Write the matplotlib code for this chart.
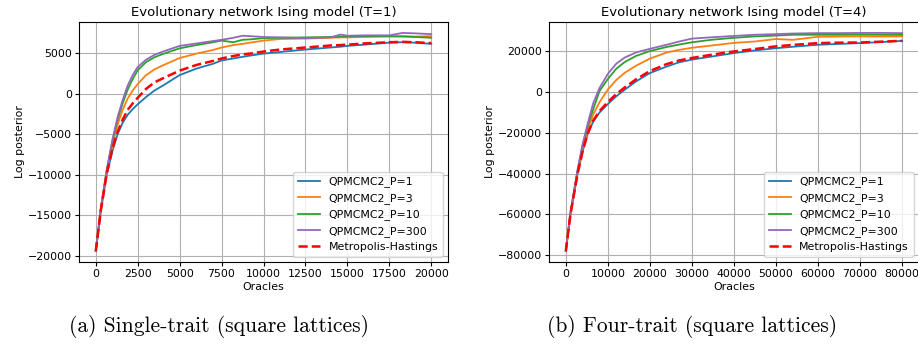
import numpy as np
import matplotlib
matplotlib.use("Agg")
import matplotlib.pyplot as plt

# values
labels = ['QPMCMC2_P=1', 'QPMCMC2_P=3', 'QPMCMC2_P=10', 'QPMCMC2_P=300', 'Metropolis-Hastings']

# T=1 (single-trait), oracles 0..20000
x1 = [0, 300, 650, 1000, 1300, 1600, 1900, 2200, 2500, 3000, 3500, 4000, 5000, 6000, 7000,
      7500, 8200, 8750, 9200, 10000, 11000, 12500, 14000, 14600, 15000, 16000, 17500, 18300,
      19000, 20000]
p1_t1 = [-19400, -14500, -10000, -7000, -5000, -3600, -2600, -1900, -1300, -400, 400, 1000,
         2300, 3100, 3700, 4100, 4350, 4550, 4700, 4950, 5150, 5450, 5700, 5800, 5900, 6050,
         6300, 6350, 6300, 6150]
p3_t1 = [-19400, -14300, -9700, -6200, -3800, -2000, -600, 400, 1200, 2300, 3000, 3500, 4400,
         4950, 5400, 5700, 6000, 6150, 6300, 6550, 6750, 6800, 6900, 6950, 6950, 7000, 7050,
         7100, 7050, 7100]
p10_t1 = [-19400, -14200, -9500, -5800, -3200, -1200, 500, 1800, 2900, 3900, 4500, 4900, 5600,
          6000, 6350, 6550, 6350, 6650, 6700, 6850, 6900, 6950, 7000, 7050, 7050, 7100, 7100,
          7050, 7000, 6900]
p300_t1 = [-19400, -14200, -9400, -5600, -2900, -800, 1000, 2300, 3300, 4200, 4800, 5200, 5900,
           6200, 6500, 6650, 6900, 7150, 7100, 7000, 6950, 6850, 6950, 7300, 7150, 7200, 7200,
           7500, 7450, 7350]
mh_t1 = [-19400, -14400, -9900, -6700, -4700, -3200, -2000, -1200, -500, 600, 1400, 1900, 2850,
         3550, 4050, 4350, 4650, 4850, 4950, 5200, 5450, 5700, 5950, 6000, 6050, 6200, 6350,
         6400, 6350, 6250]

# T=4 (four-trait), oracles 0..80000
x4 = [0, 1100, 2800, 4000, 5200, 6500, 8000, 10000, 12000, 14000, 16700, 20000, 24000, 27000,
      30000, 35000, 40000, 45000, 50000, 54000, 60000, 65000, 70000, 75000, 80000]
p1_t4 = [-78000, -60000, -40000, -29000, -20500, -14500, -10000, -5800, -2000, 1200, 5300, 9400,
         12600, 14700, 16000, 17600, 19200, 20500, 21600, 22300, 23300, 23700, 24100, 24600,
         25200]
p3_t4 = [-78000, -59500, -39000, -27500, -18500, -11000, -5000, 1300, 6000, 9500, 13000, 16500,
         19500, 20800, 21800, 23000, 24200, 24900, 26100, 25700, 27200, 27300, 27400, 27300,
         27400]
p10_t4 = [-78000, -59300, -38500, -26000, -16500, -8500, 500, 6500, 11500, 14800, 17800, 20200,
          22200, 23400, 24500, 25800, 26700, 27400, 27800, 28200, 28200, 28200, 28300, 28200,
          28200]
p300_t4 = [-78000, -59200, -38000, -25500, -15500, -5500, 2000, 9000, 14000, 17000, 19500, 21300,
           23300, 24900, 26300, 27000, 27600, 28200, 28500, 28800, 29000, 29000, 29100, 29100,
           29000]
mh_t4 = [-78000, -60000, -40000, -29000, -20300, -14000, -9300, -4800, -900, 2300, 6300, 10400,
         13800, 15600, 16800, 18500, 20000, 21200, 22500, 23200, 24100, 24300, 24400, 24800,
         25200]

titles = ['Evolutionary network Ising model (T=1)', 'Evolutionary network Ising model (T=4)']
captions = ['(a) Single-trait (square lattices)', '(b) Four-trait (square lattices)']

colors = ['#1f77b4', '#ff7f0e', '#2ca02c', '#9467bd']

fig = plt.figure(figsize=(9.18, 3.45), dpi=100)
ax1 = fig.add_axes([79 / 918, 83 / 345, 369 / 918, 240 / 345])
ax2 = fig.add_axes([549 / 918, 83 / 345, 370 / 918, 240 / 345])

panels = [(ax1, x1, [p1_t1, p3_t1, p10_t1, p300_t1], mh_t1),
          (ax2, x4, [p1_t4, p3_t4, p10_t4, p300_t4], mh_t4)]

for i, (ax, x, series, mh) in enumerate(panels):
    for ys, c, lab in zip(series, colors, labels):
        ax.plot(x, ys, color=c, lw=1.3, label=lab)
    ax.plot(x, mh, 'r--', lw=1.8, label=labels[4])
    ax.grid(True)
    ax.set_title(titles[i], fontsize=9.5, pad=4)
    ax.set_xlabel('Oracles', fontsize=7.9, labelpad=2)
    ax.set_ylabel('Log posterior', fontsize=7.9, labelpad=2)
    ax.tick_params(labelsize=7.9, length=3, pad=2)
    ax.legend(loc='lower right', fontsize=7.9)

ax1.set_xticks(np.arange(0, 20001, 2500))
ax2.set_xticks(np.arange(0, 80001, 10000))

fig.text(219 / 918, 1 - 327 / 345, captions[0], family='cmr10', fontsize=15.5,
         ha='center', va='center')
fig.text(692 / 918, 1 - 327 / 345, captions[1], family='cmr10', fontsize=15.5,
         ha='center', va='center')

fig.savefig('out.png', dpi=100)
